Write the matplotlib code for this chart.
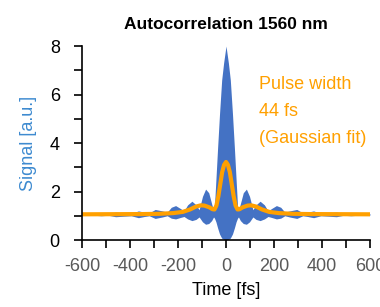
import matplotlib
matplotlib.use("Agg")
import matplotlib.pyplot as plt
import numpy as np

# Upper / lower envelope of interferometric autocorrelation (symmetric)
env_t = [0, 10, 18, 27, 35, 42, 48, 52, 60, 72, 85, 98, 112, 125, 142, 160, 175,
         190, 210, 228, 245, 265, 295, 320, 340, 365, 395, 430, 460, 490, 520, 550, 600]
env_upper = [8.0, 7.3, 6.6, 5.2, 3.8, 2.5, 1.4, 1.2, 1.5, 1.95, 2.1, 1.8, 1.25, 1.45, 1.6, 1.45, 1.2,
             1.3, 1.42, 1.35, 1.15, 1.2, 1.26, 1.12, 1.15, 1.2, 1.1, 1.12, 1.15, 1.08, 1.1, 1.09, 1.08]
env_lower = [0.0, 0.03, 0.08, 0.25, 0.5, 0.75, 0.9, 0.95, 0.8, 0.68, 0.65, 0.75, 0.95, 0.85, 0.8, 0.87, 0.97,
             0.93, 0.87, 0.9, 1.0, 0.95, 0.89, 1.0, 0.97, 0.92, 1.0, 0.98, 0.96, 1.02, 1.0, 1.02, 1.03]

# Intensity autocorrelation (orange), symmetric
ia_t = [0, 8, 16, 24, 32, 40, 48, 56, 70, 90, 105, 125, 150, 180, 220, 280, 350, 600]
ia_val = [3.22, 3.1, 2.8, 2.3, 1.8, 1.42, 1.26, 1.27, 1.35, 1.42, 1.43, 1.38, 1.26, 1.16, 1.11, 1.08, 1.07, 1.06]

title = "Autocorrelation 1560 nm"
xlabel = "Time [fs]"
ylabel = "Signal [a.u.]"
note = ["Pulse width", "44 fs", "(Gaussian fit)"]
xticks = [-600, -400, -200, 0, 200, 400, 600]
yticks = [0, 2, 4, 6, 8]

def mirror(t, v):
    t = np.asarray(t, float); v = np.asarray(v, float)
    return np.concatenate([-t[::-1], t[1:]]), np.concatenate([v[::-1], v[1:]])

plt.rcParams['font.family'] = ['Liberation Sans', 'DejaVu Sans']
plt.rcParams['axes.unicode_minus'] = False

fig = plt.figure(figsize=(3.8, 3.07), dpi=100)
ax = fig.add_axes([0.2158, 0.2182, 0.7579, 0.6318])

te, up = mirror(env_t, env_upper)
_, lo = mirror(env_t, env_lower)
ax.fill_between(te, lo, up, color='#4472C4', linewidth=0)

ti, iv = mirror(ia_t, ia_val)
ax.plot(ti, iv, color='#FFA000', linewidth=3.0, solid_capstyle='round')

ax.set_xlim(-600, 600)
ax.set_ylim(0, 8)
ax.set_xticks(xticks)
ax.set_xticks(np.arange(-600, 601, 100), minor=True)
ax.set_yticks(yticks)
ax.set_yticks(np.arange(0, 9, 1), minor=True)
ax.tick_params(axis='x', which='both', direction='out', length=6, width=1.2,
               labelsize=13, labelcolor='#595959', pad=7)
ax.tick_params(axis='y', which='both', direction='out', length=6, width=1.2,
               labelsize=13, labelcolor='black', pad=10)
for s in ['top', 'right']:
    ax.spines[s].set_visible(False)
for s in ['left', 'bottom']:
    ax.spines[s].set_linewidth(1.2)

ax.set_title(title, fontsize=12.5, fontweight='bold', pad=12)
ax.set_xlabel(xlabel, fontsize=13, labelpad=5)
ax.set_ylabel(ylabel, fontsize=13, color='#3D8AD0', labelpad=9)

for i, line in enumerate(note):
    ax.text(0.615, 0.80 - i * 0.139, line, transform=ax.transAxes, fontsize=13,
            color='#FFA000', va='center', ha='left')

fig.savefig('out.png', dpi=100)
